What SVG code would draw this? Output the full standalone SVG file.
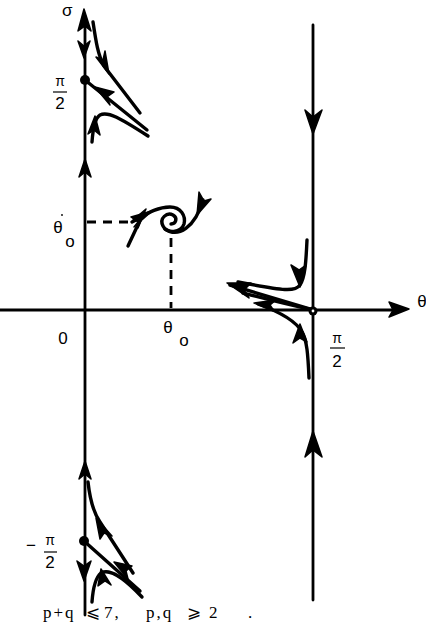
<svg xmlns="http://www.w3.org/2000/svg" width="426" height="635" viewBox="0 0 426 635">
<style>
.ax{stroke:#000;stroke-width:2.8;fill:none;stroke-linecap:round}
.tr{stroke:#000;stroke-width:3.4;fill:none;stroke-linecap:round;stroke-linejoin:round}
.ds{stroke:#000;stroke-width:2.8;fill:none;stroke-dasharray:9,7}
.ah{fill:#000;stroke:#000;stroke-width:1.5;stroke-linejoin:round}
.lb{font-family:"Liberation Sans",Arial,sans-serif;font-size:17px;fill:#000}
.sm{font-family:"Liberation Sans",Arial,sans-serif;font-size:14px;fill:#000}
.bt{font-family:"Liberation Serif","DejaVu Serif",serif;font-size:17px;fill:#000}
</style>
<rect width="426" height="635" fill="#fff"/>
<g id="connectors">
  <line class="ax" x1="0" y1="310" x2="398" y2="310"/>
  <polygon class="ah" points="409,309 389,302 393,310 389,317"/>
  <line class="ax" x1="85" y1="20" x2="85" y2="615"/>
  <polygon class="ah" points="84,9 78,31 85,26 91,31"/>
  <polygon class="ah" points="84,58 78,41 84,46 90,41"/>
  <polygon class="ah" points="85,159 79,177 85,172 91,177"/>
  <polygon class="ah" points="85,461 79,479 85,474 91,479"/>
  <polygon class="ah" points="84,581 77,561 84,566 91,561"/>
  <line class="ax" x1="313" y1="25" x2="313" y2="600"/>
  <polygon class="ah" points="313,134 305,110 313,117 322,110"/>
  <polygon class="ah" points="313,431 305,457 313,450 322,457"/>
  <line class="ds" x1="87" y1="222" x2="128" y2="222"/>
  <line class="ds" x1="171" y1="238" x2="171" y2="308"/>
  <!-- top-left cluster -->
  <path class="tr" d="M93,22 C96,42 98,55 104,66 L140,113"/>
  <polygon class="ah" points="109,74 96,57 103,60 105,51"/>
  <path class="tr" d="M85,80 L147,130"/>
  <polygon class="ah" points="95,87 114,92 107,97 110,105"/>
  <path class="tr" d="M92,142 C93,128 95,118 100,115 C108,111 120,118 148,136"/>
  <polygon class="ah" points="95,116 88,134 94,130 100,135"/>
  <!-- bottom-left cluster -->
  <path class="tr" d="M88,482 C90,500 93,512 100,522 L133,573"/>
  <polygon class="ah" points="96,518 100,539 104,533 112,536"/>
  <path class="tr" d="M84,541 L140,591"/>
  <polygon class="ah" points="114,562 132,566 126,571 128,579"/>
  <path class="tr" d="M92,602 C93,588 96,577 101,573 C110,568 124,578 142,597"/>
  <polygon class="ah" points="101,569 98,586 105,581 111,585"/>
  <!-- spiral -->
  <path class="tr" d="M128,246 L143,214"/>
  <polygon class="ah" points="146,209 133,220 140,221 138,228"/>
  <path class="tr" d="M132,222 C145,215 156,207 170,207 C181,207 186,216 184,224 C181,233 167,234 163,226 C159,218 167,212 173,215 C178,218 176,224 171,224"/>
  <polygon class="ah" points="152,211 131,217 138,222 134,227"/>
  <path class="tr" d="M165,229 C178,238 195,228 203,200"/>
  <polygon class="ah" points="197,215 199,192 204,201 211,199"/>
  <!-- saddle -->
  <path class="tr" d="M307,240 C306,262 305,278 300,285 C295,292 285,291 238,282"/>
  <polygon class="ah" points="300,287 291,265 299,270 306,265"/>
  <path class="tr" d="M230,285 L313,310"/>
  <path class="tr" d="M243,293 C270,300 290,305 313,310"/>
  <polygon class="ah" points="227,283 251,283 244,290 249,298"/>
  <polygon class="ah" points="254,303 276,300 270,305 274,311"/>
  <path class="tr" d="M309,378 C308,355 307,340 302,332 C296,321 280,312 258,304"/>
  <polygon class="ah" points="300,324 293,343 300,338 307,342"/>
</g>
<g id="node-top">
  <circle cx="85" cy="80" r="5" fill="#000"/>
</g>
<g id="node-bottom">
  <circle cx="84" cy="541" r="5" fill="#000"/>
</g>
<g id="node-saddle">
  <circle cx="313" cy="311" r="4.5" fill="#000"/>
  <circle cx="313" cy="311" r="1.4" fill="#fff"/>
</g>
<g id="labels">
  <text class="lb" x="62" y="16">σ</text>
  <text class="sm" x="60" y="86" text-anchor="middle">π</text>
  <line x1="53" y1="92" x2="67" y2="92" stroke="#000" stroke-width="1.2"/>
  <text class="lb" x="60" y="109" text-anchor="middle">2</text>
  <text class="lb" x="58" y="233" text-anchor="middle">θ</text>
  <circle cx="62" cy="215" r="0.9" fill="#000"/>
  <text class="lb" x="70" y="247" text-anchor="middle">o</text>
  <text class="lb" x="63" y="344" text-anchor="middle">0</text>
  <text class="lb" x="168" y="333" text-anchor="middle">θ</text>
  <text class="lb" x="184" y="346" text-anchor="middle">o</text>
  <text class="lb" x="422" y="307" text-anchor="middle">θ</text>
  <text class="sm" x="337" y="343" text-anchor="middle">π</text>
  <line x1="330" y1="348" x2="345" y2="348" stroke="#000" stroke-width="1.2"/>
  <text class="lb" x="337" y="367" text-anchor="middle">2</text>
  <text class="lb" x="31" y="551" text-anchor="middle">−</text>
  <text class="sm" x="50" y="545" text-anchor="middle">π</text>
  <line x1="44" y1="552" x2="57" y2="552" stroke="#000" stroke-width="1.2"/>
  <text class="lb" x="50" y="568" text-anchor="middle">2</text>
</g>
<g id="caption">
  <text class="bt" y="618" letter-spacing="2"><tspan x="43">p+q</tspan><tspan x="86">⩽</tspan><tspan x="104">7,</tspan><tspan x="146">p,q</tspan><tspan x="187">⩾</tspan><tspan x="209">2</tspan><tspan x="248">.</tspan></text>
</g>
</svg>
